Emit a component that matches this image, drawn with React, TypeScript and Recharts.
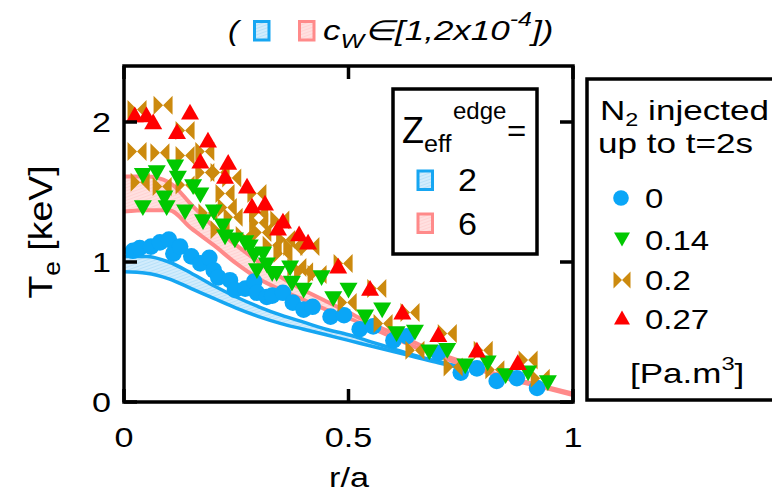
import React from "react";
import { ComposedChart, Area, Line, Scatter, XAxis, YAxis } from "recharts";

// plot frame in page pixels
const W = 772;
const H = 497;
const PLOT = { left: 124, top: 66, right: 573, bottom: 402 };
const FONT = "'Liberation Sans', Arial, Helvetica, sans-serif";

const xTicks = [0, 0.5, 1];
const yTicks = [0, 1, 2];
const X_DOMAIN = [0, 1];
const Y_DOMAIN = [0, 2.4];

// simulated T_e bands (c_W in [1, 2e-4]) for Z_eff^edge = 2 and 6
const rBand = [0, 0.05, 0.1, 0.15, 0.2, 0.25, 0.3, 0.35, 0.4, 0.45, 0.5, 0.55, 0.6, 0.65, 0.7, 0.75, 0.8, 0.85, 0.9, 0.95, 1.0];
const z2Hi = [1.04, 1.04, 1.0, 0.92, 0.83, 0.75, 0.68, 0.62, 0.57, 0.52, 0.48, 0.43, 0.38, 0.33, 0.29, 0.25];
const z2Lo = [0.93, 0.92, 0.88, 0.81, 0.74, 0.67, 0.61, 0.56, 0.52, 0.48, 0.44, 0.4, 0.36, 0.32, 0.28, 0.245];
const z6Hi = [1.61, 1.61, 1.57, 1.41, 1.25, 1.12, 1.0, 0.89, 0.8, 0.72, 0.64, 0.56, 0.49, 0.42, 0.35, 0.29, 0.23, 0.18, 0.14, 0.1, 0.06];
const z6Lo = [1.36, 1.37, 1.37, 1.24, 1.12, 0.99, 0.88, 0.8, 0.73, 0.66, 0.6, 0.53, 0.46, 0.39, 0.33, 0.27, 0.22, 0.17, 0.13, 0.09, 0.05];

// measured profiles [r/a, T_e keV] by injected N2 amount
const n2_0 = [
  [0.02, 1.08], [0.035, 1.1], [0.06, 1.11], [0.08, 1.14], [0.1, 1.16], [0.11, 1.06], [0.125, 1.11],
  [0.15, 1.04], [0.17, 0.99], [0.19, 1.03], [0.2, 0.94], [0.21, 0.89], [0.236, 0.87], [0.247, 0.8],
  [0.27, 0.81], [0.29, 0.86], [0.296, 0.78], [0.318, 0.75], [0.33, 0.76], [0.354, 0.78], [0.376, 0.71],
  [0.4, 0.66], [0.42, 0.68], [0.46, 0.61], [0.49, 0.62], [0.525, 0.52], [0.555, 0.54], [0.6, 0.44],
  [0.63, 0.47], [0.7, 0.35], [0.75, 0.21], [0.786, 0.24], [0.83, 0.15], [0.875, 0.17], [0.92, 0.1],
];
const n2_014 = [
  [0.042, 1.62], [0.073, 1.64], [0.114, 1.68], [0.12, 1.6], [0.042, 1.39], [0.09, 1.46], [0.095, 1.39],
  [0.154, 1.54], [0.17, 1.48], [0.136, 1.36], [0.176, 1.29], [0.2, 1.36], [0.22, 1.26], [0.225, 1.18],
  [0.247, 1.16], [0.27, 1.14], [0.28, 1.11], [0.29, 1.05], [0.31, 1.06], [0.296, 0.94], [0.318, 0.98],
  [0.33, 0.92], [0.34, 0.92], [0.37, 0.96], [0.374, 0.85], [0.4, 0.8], [0.44, 0.89], [0.466, 0.74],
  [0.5, 0.8], [0.537, 0.61], [0.575, 0.66], [0.607, 0.49], [0.648, 0.5], [0.68, 0.36], [0.72, 0.37],
  [0.76, 0.26], [0.81, 0.28], [0.85, 0.19], [0.9, 0.21], [0.944, 0.14],
];
const n2_02 = [
  [0.029, 2.09], [0.087, 2.12], [0.029, 1.79], [0.08, 1.78], [0.136, 1.94], [0.136, 1.76], [0.18, 1.79],
  [0.18, 1.64], [0.036, 1.57], [0.085, 1.54], [0.136, 1.55], [0.214, 1.64], [0.24, 1.6], [0.225, 1.49],
  [0.23, 1.39], [0.187, 1.35], [0.243, 1.32], [0.296, 1.49], [0.3, 1.35], [0.3, 1.28], [0.214, 1.23],
  [0.27, 1.19], [0.307, 1.21], [0.347, 1.3], [0.33, 1.12], [0.36, 1.16], [0.354, 1.06], [0.376, 1.11],
  [0.414, 1.11], [0.385, 0.96], [0.4, 0.93], [0.43, 0.91], [0.488, 0.99], [0.497, 0.71], [0.563, 0.81],
  [0.577, 0.56], [0.637, 0.64], [0.648, 0.37], [0.72, 0.49], [0.733, 0.25], [0.8, 0.37], [0.826, 0.23],
  [0.9, 0.3], [0.927, 0.17],
];
const n2_027 = [
  [0.024, 2.05], [0.05, 2.05], [0.065, 2.0], [0.147, 2.07], [0.118, 1.93], [0.187, 1.87], [0.17, 1.72],
  [0.232, 1.71], [0.225, 1.61], [0.274, 1.54], [0.285, 1.4], [0.314, 1.42], [0.354, 1.29], [0.343, 1.24],
  [0.39, 1.2], [0.41, 1.14], [0.477, 0.97], [0.548, 0.81], [0.62, 0.64], [0.7, 0.48], [0.786, 0.37],
  [0.877, 0.28],
];

const BLUE = "#0aa6f7";
const GREEN = "#00c800";
const ORANGE = "#cc8a0e";
const RED = "#ff0000";
const Z2_LINE = "#16a6f2";
const Z6_LINE = "#ff8a8a";

const bandRows = (hi: number[], lo: number[]) =>
  hi.map((h, i) => ({ r: rBand[i], hi: h, lo: lo[i], range: [lo[i], h] }));
const z2Rows = bandRows(z2Hi, z2Lo);
const z6Rows = bandRows(z6Hi, z6Lo);
const pts = (arr: number[][]) => arr.map(([r, te]) => ({ r, te }));

// marker shapes (own size props, recharts passes its own r/size)
const Dot = ({ cx, cy, fill, rad = 8.3 }: any) => <circle cx={cx} cy={cy} r={rad} fill={fill} />;
const TriDown = ({ cx, cy, fill, s = 9 }: any) => (
  <path d={`M${cx - s},${cy - s * 0.8}L${cx + s},${cy - s * 0.8}L${cx},${cy + s * 0.95}Z`} fill={fill} />
);
const TriUp = ({ cx, cy, fill, s = 9 }: any) => (
  <path d={`M${cx},${cy - s * 0.95}L${cx - s},${cy + s * 0.8}L${cx + s},${cy + s * 0.8}Z`} fill={fill} />
);
const Bowtie = ({ cx, cy, fill, s = 9.5 }: any) => (
  <path
    d={`M${cx - s},${cy - s}L${cx},${cy}L${cx - s},${cy + s}Z M${cx + s},${cy - s}L${cx},${cy}L${cx + s},${cy + s}Z`}
    fill={fill}
  />
);

// horizontally stretched text
function Txt({ x, y, size = 28, sx = 1.22, anchor = "start", italic = false, children }: any) {
  return (
    <g transform={`translate(${x} ${y}) scale(${sx} 1)`}>
      <text x={0} y={0} fontSize={size} fontFamily={FONT} textAnchor={anchor} fontStyle={italic ? "italic" : "normal"} fill="#000">
        {children}
      </text>
    </g>
  );
}

const TICK_LEN = 13;
const BottomTick = ({ x, payload }: any) => (
  <g>
    <line x1={x} x2={x} y1={PLOT.bottom} y2={PLOT.bottom - TICK_LEN} stroke="#000" strokeWidth={3.5} />
    <Txt x={x} y={447} anchor="middle">{payload.value}</Txt>
  </g>
);
const LeftTick = ({ y, payload }: any) => (
  <g>
    <line x1={PLOT.left} x2={PLOT.left + TICK_LEN} y1={y} y2={y} stroke="#000" strokeWidth={3.5} />
    <Txt x={111} y={y + 10} anchor="end">{payload.value}</Txt>
  </g>
);

// top / right frame edges with inward ticks mirroring the bottom / left axes
const xPix = (v: number) => PLOT.left + ((v - X_DOMAIN[0]) / (X_DOMAIN[1] - X_DOMAIN[0])) * (PLOT.right - PLOT.left);
const yPix = (v: number) => PLOT.bottom - ((v - Y_DOMAIN[0]) / (Y_DOMAIN[1] - Y_DOMAIN[0])) * (PLOT.bottom - PLOT.top);

function Frame() {
  return (
    <g stroke="#000" strokeWidth={3.5}>
      <rect x={PLOT.left} y={PLOT.top} width={PLOT.right - PLOT.left} height={PLOT.bottom - PLOT.top} fill="none" />
      {xTicks.map((t) => (
        <line key={`t${t}`} x1={xPix(t)} x2={xPix(t)} y1={PLOT.top} y2={PLOT.top + TICK_LEN} />
      ))}
      {yTicks.map((t) => (
        <line key={`r${t}`} x1={PLOT.right} x2={PLOT.right - TICK_LEN} y1={yPix(t)} y2={yPix(t)} />
      ))}
    </g>
  );
}

function Swatch({ x, y, kind }: { x: number; y: number; kind: "z2" | "z6" }) {
  return (
    <rect
      x={x}
      y={y}
      width={14.5}
      height={18.5}
      fill={kind === "z2" ? "url(#hatchZ2)" : "url(#hatchZ6)"}
      stroke={kind === "z2" ? Z2_LINE : Z6_LINE}
      strokeWidth={3}
    />
  );
}

function Overlay() {
  return (
    <svg width={W} height={H} style={{ position: "absolute", left: 0, top: 0, pointerEvents: "none" }}>
      <Frame />

      {/* top caption */}
      <Txt x={228} y={40} italic sx={1.15}>(</Txt>
      <Swatch x={254.5} y={21.5} kind="z2" />
      <Swatch x={299.5} y={21.5} kind="z6" />
      <g transform="translate(323 40) scale(1.25 1)">
        <text x={0} y={0} fontSize={28} fontFamily={FONT} fontStyle="italic">
          c
          <tspan fontSize={20} dy={8}>W</tspan>
          <tspan fontSize={28} dy={-8}>∈[1,2x10</tspan>
          <tspan fontSize={20} dy={-14}>-4</tspan>
          <tspan fontSize={28} dy={14}>])</tspan>
        </text>
      </g>

      {/* axis titles */}
      <Txt x={349} y={487} anchor="middle">r/a</Txt>
      <g transform="translate(52 232) rotate(-90)">
        <text x={0} y={0} fontSize={34} fontFamily={FONT} textAnchor="middle" transform="scale(1.1 1)">
          T<tspan fontSize={24} dy={8}>e</tspan>
          <tspan dy={-8}> [keV]</tspan>
        </text>
      </g>

      {/* Z_eff^edge legend */}
      <rect x={393} y={89} width={144} height={165} fill="#fff" stroke="#000" strokeWidth={3.5} />
      <Txt x={402} y={143} size={36} sx={1}>Z</Txt>
      <Txt x={424} y={152} size={24} sx={1.05}>eff</Txt>
      <Txt x={453} y={119} size={24} sx={1}>edge</Txt>
      <Txt x={507} y={141} size={30} sx={1.1}>=</Txt>
      <Swatch x={418} y={171} kind="z2" />
      <Txt x={458} y={191} size={31} sx={1.1}>2</Txt>
      <Swatch x={418} y={214} kind="z6" />
      <Txt x={458} y={235} size={31} sx={1.1}>6</Txt>

      {/* N2 legend */}
      <rect x={587} y={79} width={200} height={321} fill="#fff" stroke="#000" strokeWidth={3.5} />
      <g transform="translate(600 120) scale(1.3 1)">
        <text x={0} y={0} fontSize={27} fontFamily={FONT}>
          N<tspan fontSize={18} dy={6}>2</tspan>
          <tspan dy={-6}> injected</tspan>
        </text>
      </g>
      <Txt x={598} y={153} size={27} sx={1.3}>up to t=2s</Txt>
      <Dot cx={621} cy={198} fill={BLUE} rad={7.8} />
      <Txt x={645} y={208} size={27}>0</Txt>
      <TriDown cx={622} cy={239} fill={GREEN} s={8} />
      <Txt x={645} y={250} size={27}>0.14</Txt>
      <Bowtie cx={622} cy={280} fill={ORANGE} s={8.5} />
      <Txt x={645} y={290} size={27}>0.2</Txt>
      <TriUp cx={622} cy={318} fill={RED} s={8} />
      <Txt x={645} y={329} size={27}>0.27</Txt>
      <g transform="translate(630 383) scale(1.25 1)">
        <text x={0} y={0} fontSize={28} fontFamily={FONT}>
          [Pa.m<tspan fontSize={19} dy={-13}>3</tspan>
          <tspan dy={13}>]</tspan>
        </text>
      </g>
    </svg>
  );
}

export default function App() {
  return (
    <div style={{ position: "absolute", left: 0, top: 0, width: W, height: H, background: "#fff" }}>
      <svg width={0} height={0} style={{ position: "absolute" }}>
        <defs>
          <pattern id="hatchZ2" width={3} height={3} patternUnits="userSpaceOnUse" patternTransform="rotate(70)">
            <rect width={3} height={3} fill="#d2ecfc" />
            <line x1={0} y1={0} x2={0} y2={3} stroke="#9fd6f7" strokeWidth={1} />
          </pattern>
          <pattern id="hatchZ6" width={3} height={3} patternUnits="userSpaceOnUse" patternTransform="rotate(70)">
            <rect width={3} height={3} fill="#ffe0e0" />
            <line x1={0} y1={0} x2={0} y2={3} stroke="#ffc4c4" strokeWidth={1} />
          </pattern>
        </defs>
      </svg>
      <ComposedChart
        width={W}
        height={H}
        margin={{ top: PLOT.top, right: W - PLOT.right, bottom: 0, left: 0 }}
      >
        <XAxis
          type="number"
          dataKey="r"
          domain={X_DOMAIN}
          ticks={xTicks}
          height={H - PLOT.bottom}
          axisLine={false}
          tickLine={false}
          tickSize={0}
          tick={<BottomTick />}
          allowDataOverflow
        />
        <YAxis
          type="number"
          domain={Y_DOMAIN}
          ticks={yTicks}
          width={PLOT.left}
          axisLine={false}
          tickLine={false}
          tickSize={0}
          tick={<LeftTick />}
          allowDataOverflow
        />

        {/* Z_eff^edge = 2 band */}
        <Area data={z2Rows} dataKey="range" type="monotone" stroke="none" fill="url(#hatchZ2)" fillOpacity={1} isAnimationActive={false} />
        <Line data={z2Rows} dataKey="hi" type="monotone" stroke={Z2_LINE} strokeWidth={3.5} dot={false} isAnimationActive={false} />
        <Line data={z2Rows} dataKey="lo" type="monotone" stroke={Z2_LINE} strokeWidth={3.5} dot={false} isAnimationActive={false} />

        {/* Z_eff^edge = 6 band */}
        <Area data={z6Rows} dataKey="range" type="monotone" stroke="none" fill="url(#hatchZ6)" fillOpacity={1} isAnimationActive={false} />
        <Line data={z6Rows} dataKey="hi" type="monotone" stroke={Z6_LINE} strokeWidth={4} dot={false} isAnimationActive={false} />
        <Line data={z6Rows} dataKey="lo" type="monotone" stroke={Z6_LINE} strokeWidth={4} dot={false} isAnimationActive={false} />

        <Scatter data={pts(n2_0)} dataKey="te" fill={BLUE} shape={<Dot />} isAnimationActive={false} />
        <Scatter data={pts(n2_02)} dataKey="te" fill={ORANGE} shape={<Bowtie />} isAnimationActive={false} />
        <Scatter data={pts(n2_014)} dataKey="te" fill={GREEN} shape={<TriDown />} isAnimationActive={false} />
        <Scatter data={pts(n2_027)} dataKey="te" fill={RED} shape={<TriUp />} isAnimationActive={false} />
      </ComposedChart>
      <Overlay />
    </div>
  );
}
